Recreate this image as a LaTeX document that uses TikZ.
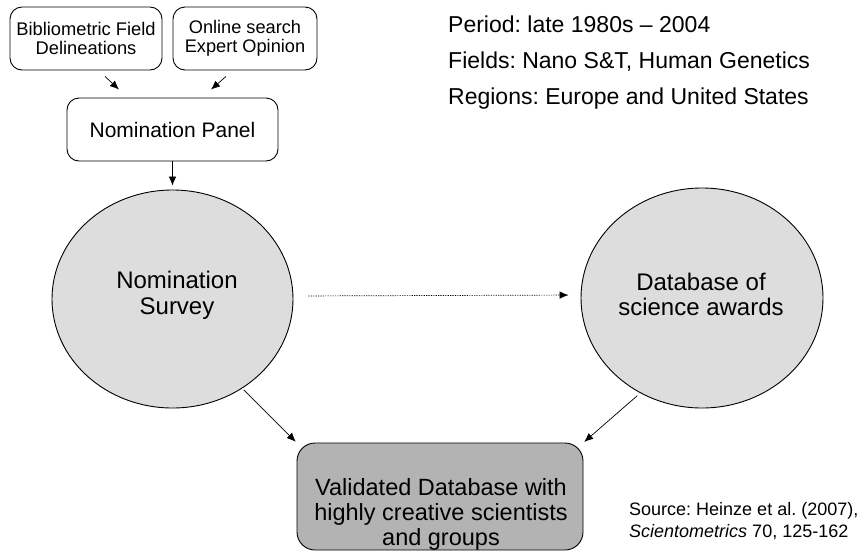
\documentclass[tikz,border=0pt]{standalone}
\usepackage{fontspec}
\setmainfont{Liberation Sans}
\usetikzlibrary{arrows.meta,shapes.geometric}
\definecolor{lgray}{RGB}{221,221,221}
\definecolor{vgray}{RGB}{179,179,179}
\frenchspacing
\begin{document}
\begin{tikzpicture}[x=1pt,y=-1pt,
  rbox/.style={draw, line width=0.9pt, rounded corners=12pt, inner sep=0pt, align=center, fill=white},
  circ/.style={ellipse, draw, line width=0.9pt, fill=lgray, inner sep=0pt},
  arr/.style={-{Latex[length=9pt,width=7.5pt]}, line width=0.7pt},
  txt/.style={inner sep=0pt, align=center},
  side/.style={inner sep=0pt, anchor=base west}]
\useasboundingbox[fill=white] (0,0) rectangle (866,552);

% top boxes
\node[rbox, minimum width=152pt, minimum height=63pt, font=\fontsize{18.3}{18.5}\selectfont] (b1) at (86,38.5) {Bibliometric Field\\Delineations};
\node[rbox, minimum width=144pt, minimum height=63pt, font=\fontsize{18.2}{18.5}\selectfont] (b2) at (245,38.5) {Online search\\Expert Opinion};
\node[rbox, minimum width=211pt, minimum height=63pt, font=\fontsize{21}{22}\selectfont] (panel) at (172.5,129.5) {Nomination Panel};

% ellipses
\node[circ, minimum width=241pt, minimum height=218pt] (s1) at (172.5,299) {};
\node[circ, minimum width=242pt, minimum height=220pt] (s2) at (702,298) {};
\node[txt, anchor=north, font=\fontsize{24}{25.5}\selectfont] (s1t) at (177,271) {Nomination\\Survey};
\node[txt, anchor=north, font=\fontsize{24}{25}\selectfont] (s2t) at (701,272.5) {Database of\\science awards};

% result box
\node[draw, line width=0.9pt, rounded corners=18pt, fill=vgray, inner sep=0pt, minimum width=286pt, minimum height=107pt] (v) at (440,496.5) {};
\node[txt, anchor=north, font=\fontsize{23.5}{25}\selectfont] (vt) at (441,478) {Validated Database with\\highly creative scientists\\and groups};

% side texts
\node[side, font=\fontsize{23}{28}\selectfont] (t1) at (448,32) {Period: late 1980s – 2004};
\node[side, font=\fontsize{23}{28}\selectfont] (t2) at (448,68) {Fields: Nano S\&T, Human Genetics};
\node[side, font=\fontsize{23}{28}\selectfont] (t3) at (448,104) {Regions: Europe and United States};
\node[side, font=\fontsize{18}{22}\selectfont] (src1) at (629,515) {Source: Heinze et al. (2007),};
\node[side, font=\fontsize{18}{22}\selectfont] (src2) at (629,537) {\textit{Scientometrics} 70, 125-162};

% connectors
\draw[arr] ([xshift=19pt,yshift=-6pt]b1.south) -- ([xshift=-53.5pt,yshift=8pt]panel.north);
\draw[arr] ([xshift=-19pt,yshift=-6pt]b2.south) -- ([xshift=38.5pt,yshift=8pt]panel.north);
\draw[arr, shorten >=4pt] (panel.south) -- (s1.north);
\draw[arr, dash pattern=on 1.2pt off 1.2pt, shorten <=15pt, shorten >=12pt] ([yshift=3pt]s1.east) -- ([yshift=3pt]s2.west);
\draw[arr, shorten <=2pt, shorten >=1pt] (s1.-52) -- (v.north west);
\draw[arr, shorten <=4pt, shorten >=1pt] (s2.-123) -- (v.north east);
\end{tikzpicture}
\end{document}
